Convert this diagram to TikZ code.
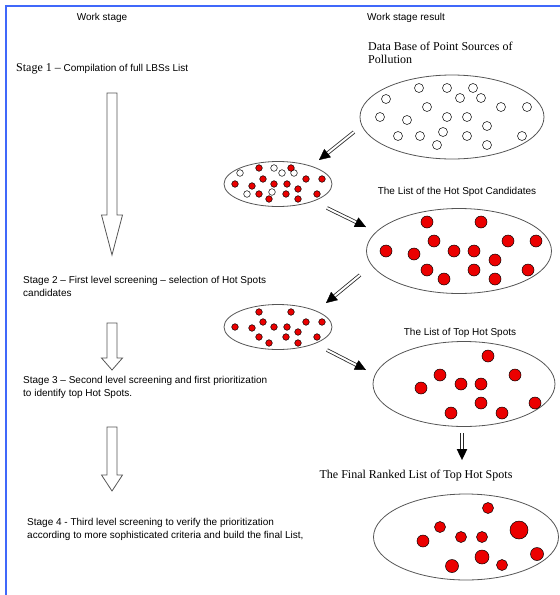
\documentclass[tikz,border=0pt]{standalone}
\usepackage{fontspec}
\setmainfont{Liberation Serif}
\setsansfont{Liberation Sans}
\usetikzlibrary{shapes.geometric,arrows.meta,calc}

\definecolor{frameblue}{RGB}{64,104,250}
\definecolor{dotred}{RGB}{235,0,0}
\definecolor{edgegray}{RGB}{85,85,85}

\tikzset{
  sanslabel/.style={font=\sffamily\fontsize{10}{13}\selectfont, inner sep=0pt, align=left},
  seriflabel/.style={font=\rmfamily\fontsize{12}{13}\selectfont, inner sep=0pt, align=left},
  blob/.style={ellipse, draw=edgegray, line width=0.8pt, inner sep=0pt},
  hollowdot/.style={draw=black!85, fill=white, line width=0.6pt},
  reddot/.style={draw=black, fill=dotred, line width=0.5pt},
  stagearrow/.style={draw=edgegray, line width=0.8pt, line join=miter},
  shaft/.style={draw=black!85, double=white, double distance=2pt, line width=0.8pt}
}
\newcommand{\dblarrow}[2]{%
  \draw[shaft, shorten >=8pt] (#1) -- (#2);
  \draw[-{Triangle[length=11pt,width=10.5pt]}, black] ($(#2)!11pt!(#1)$) -- (#2);}

\begin{document}
\begin{tikzpicture}[x=1pt,y=-1pt]
  \useasboundingbox (0,0) rectangle (560,595);
  % frame
  \draw[frameblue, line width=1.8pt] (6,595) -- (6,6) -- (560,6);

  % headings
  \node[sanslabel] (hstage) at (102,18) {Work stage};
  \node[sanslabel, anchor=west] (hresult) at (367,18) {Work stage result};

  % left column: stages
  \node[sanslabel, anchor=west] (st1) at (16,69) {{\rmfamily\fontsize{12}{13}\selectfont Stage 1 --} Compilation of full LBSs List};
  \node[sanslabel, anchor=west] (st2) at (23,286) {Stage 2 -- First level screening -- selection of Hot Spots\\candidates};
  \node[sanslabel, anchor=west] (st3) at (23,387) {Stage 3 -- Second level screening and first prioritization\\to identify top Hot Spots.};
  \node[sanslabel, anchor=west] (st4) at (27,529.5) {Stage 4 - Third level screening to verify the prioritization\\according to more sophisticated criteria and build the final List,};

  \foreach \top/\base/\tip in {93/215/255, 323/358/370, 427/475/491}
    \draw[stagearrow] (107,\top) -- (117,\top) -- (117,\base) -- (122.5,\base)
      -- (112,\tip) -- (101.5,\base) -- (107,\base) -- cycle;

  % right column: results
  \node[seriflabel, anchor=west] (dblabel) at (368,52.5) {Data Base of Point Sources of\\Pollution};
  \node[sanslabel] (candlabel) at (457,192) {The List of the Hot Spot Candidates};
  \node[sanslabel] (toplabel) at (460,333) {The List of Top Hot Spots};
  \node[seriflabel] (finallabel) at (416,476) {The Final Ranked List of Top Hot Spots};

  \node[blob, minimum width=184pt, minimum height=84pt] (db) at (452,117) {};
  \node[blob, minimum width=108pt, minimum height=45pt] (cand0) at (278,184) {};
  \node[blob, minimum width=185pt, minimum height=85pt] (cand) at (459,251) {};
  \node[blob, minimum width=108pt, minimum height=45pt] (top0) at (278,327) {};
  \node[blob, minimum width=182pt, minimum height=85pt] (top) at (464,384) {};
  \node[blob, minimum width=185pt, minimum height=86pt] (final) at (466,537) {};

  % point sources
  \foreach \x/\y in {419/88, 447/88, 473/88, 460/98, 481/98, 386/99, 427/107, 501/107,
      527/107, 380/117, 407/120, 447/117, 467/117, 487/126, 398/136, 420/136, 443/132,
      467/136, 522/136, 437/145, 487/145}
    \draw[hollowdot] (\x,\y) circle (4.5pt);

  % first screening
  \foreach \x/\y in {240/173, 274/168, 282/173, 294/173, 247/194, 272/192}
    \draw[hollowdot] (\x,\y) circle (3.3pt);
  \foreach \x/\y in {259/168, 291/168, 263/179, 306/179, 322/179, 235/184, 252/186,
      274/184, 287/184, 298/189, 259/194, 286/194, 269/199, 298/199, 317/194}
    \draw[reddot] (\x,\y) circle (3.3pt);

  % hot spot candidates
  \foreach \x/\y in {427/222, 481/222, 434/241, 508/241, 536/241, 386/251, 414/254,
      454/251, 474/251, 495/260, 427/270, 474/270, 528/270, 444/279, 495/279}
    \draw[reddot] (\x,\y) circle (6pt);

  % second screening
  \foreach \x/\y in {259/312, 291/312, 263/322, 306/322, 322/322, 235/327, 252/328,
      274/327, 287/327, 298/332, 259/337, 286/337, 317/337, 269/343, 298/343}
    \draw[reddot] (\x,\y) circle (3.3pt);

  % top hot spots
  \foreach \x/\y in {488/356, 440/375, 515/375, 421/388, 461/384, 481/384, 481/403,
      535/403, 451/413, 502/413}
    \draw[reddot] (\x,\y) circle (6pt);

  % final ranking
  \foreach \x/\y/\r in {488/508/5.5, 440/527/5.5, 519/530/9, 423/541/6, 461/537/5.5,
      482/537/5.5, 482/557/7, 537/554/6.5, 452/566/6.5, 502/565/5.5}
    \draw[reddot] (\x,\y) circle (\r pt);

  % flow between results
  \coordinate (a1s) at (354,132);
  \coordinate (a1e) at (319,160);
  \coordinate (a2s) at (327,208);
  \coordinate (a2e) at (366,227);
  \coordinate (a3s) at (360,275);
  \coordinate (a3e) at (326,303);
  \coordinate (a4s) at (327,350);
  \coordinate (a4e) at (366,370);
  \coordinate (a5s) at (462,433);
  \coordinate (a5e) at (462,460);
  \dblarrow{a1s}{a1e}
  \dblarrow{a2s}{a2e}
  \dblarrow{a3s}{a3e}
  \dblarrow{a4s}{a4e}
  \dblarrow{a5s}{a5e}
\end{tikzpicture}
\end{document}
